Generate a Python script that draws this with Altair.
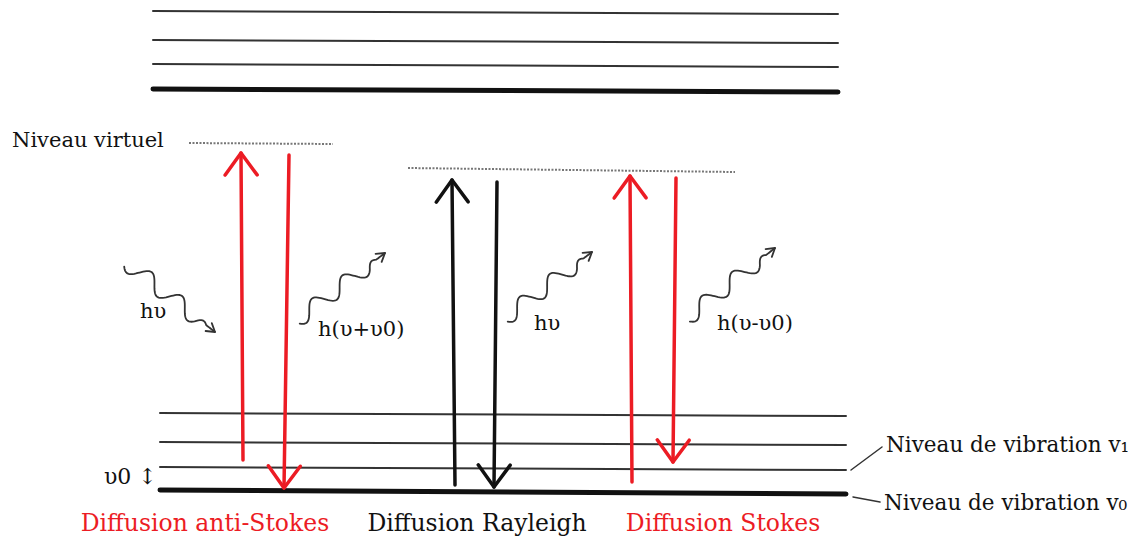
import altair as alt
import pandas as pd
import numpy as np

RED = "#ec1c24"
BLACK = "#111111"

# ---- energy levels (x extent, y at left / right end) ----
upper_x = [153, 838]
upper_thin_y = [(11, 14), (40, 43), (64, 67)]
upper_thick_y = (89, 92)
lower_x = [160, 846]
lower_thin_y = [(413, 416), (442, 445), (467, 470)]
lower_thick_y = (490, 494)
virtual_x = [(189, 333), (408, 735)]
virtual_y = [(143, 144), (168, 172)]

# ---- transitions (head at end point) ----
arrow_x0 = [243, 289, 455, 497, 632, 676]
arrow_y0 = [460, 155, 485, 182, 482, 178]
arrow_x1 = [241, 284, 452, 494, 630, 673]
arrow_y1 = [153, 488, 180, 487, 176, 462]
arrow_color = [RED, RED, BLACK, BLACK, RED, RED]

# ---- photons (wavy arrows) ----
photon_x0 = [127, 297, 505, 687]
photon_y0 = [263, 320, 318, 318]
photon_x1 = [215, 385, 592, 775]
photon_y1 = [332, 253, 252, 248]

# ---- leader lines of right labels ----
leader_x0 = [851, 853]
leader_y0 = [470, 497]
leader_x1 = [882, 880]
leader_y1 = [447, 502]

# ---- texts ----
label_text = ["Niveau virtuel", "h\u03c5", "h(\u03c5+\u03c50)", "h\u03c5", "h(\u03c5-\u03c50)",
              "\u03c50 \u2195", "Diffusion anti-Stokes", "Diffusion Rayleigh", "Diffusion Stokes",
              "Niveau de vibration v\u2081", "Niveau de vibration v\u2080"]
label_x = [12, 140, 318, 534, 717, 104, 205, 477, 723, 886, 884]
label_y = [147, 318, 336, 330, 330, 484, 531, 531, 531, 452, 510]
label_align = ["left", "left", "left", "left", "left", "left", "center", "center", "center", "left", "left"]
label_color = [BLACK] * 6 + [RED, BLACK, RED] + [BLACK, BLACK]
label_size = [21, 21, 21, 21, 21, 22, 23.5, 23.5, 23.5, 21.5, 21.5]

# ---------------- build polylines ----------------
rows = []
def add(pid, pts, color, width):
    for i, (px, py) in enumerate(pts):
        rows.append(dict(id=pid, i=i, x=px, y=py, color=color, w=width))

n = 0
for (yl, yr) in upper_thin_y:
    add(f"l{n}", [(upper_x[0], yl), (upper_x[1], yr)], "#333333", 2); n += 1
add(f"l{n}", [(upper_x[0], upper_thick_y[0]), (upper_x[1], upper_thick_y[1])], BLACK, 5); n += 1
for (yl, yr) in lower_thin_y:
    add(f"l{n}", [(lower_x[0], yl), (lower_x[1], yr)], "#333333", 2); n += 1
add(f"l{n}", [(lower_x[0], lower_thick_y[0]), (lower_x[1], lower_thick_y[1])], BLACK, 5); n += 1

def head(x0, y0, x1, y1, length, half):
    d = np.array([x1 - x0, y1 - y0], float)
    d /= np.linalg.norm(d)
    nrm = np.array([-d[1], d[0]])
    tip = np.array([x1, y1], float)
    base = tip - d * length
    return [tuple(base + nrm * half), tuple(tip), tuple(base - nrm * half)]

for k in range(len(arrow_x0)):
    add(f"a{k}", [(arrow_x0[k], arrow_y0[k]), (arrow_x1[k], arrow_y1[k])], arrow_color[k], 3.5)
    add(f"ah{k}", head(arrow_x0[k], arrow_y0[k], arrow_x1[k], arrow_y1[k], 22, 16), arrow_color[k], 3.5)

for k in range(len(photon_x0)):
    p0 = np.array([photon_x0[k], photon_y0[k]], float)
    p1 = np.array([photon_x1[k], photon_y1[k]], float)
    d = p1 - p0
    L = np.linalg.norm(d)
    u = d / L
    nrm = np.array([-u[1], u[0]])
    t = np.linspace(0, 1, 100)
    amp = 8 * np.clip((0.9 - t) / 0.1, 0, 1)
    pts = [tuple(p0 + u * L * tt + nrm * a * np.sin(2 * np.pi * 2.9 * tt + 0.6)) for tt, a in zip(t, amp)]
    add(f"p{k}", pts, "#333333", 1.8)
    add(f"ph{k}", head(*p0, *p1, 8, 5), "#333333", 1.8)

for k in range(len(leader_x0)):
    add(f"d{k}", [(leader_x0[k], leader_y0[k]), (leader_x1[k], leader_y1[k])], "#333333", 1.5)

lines = pd.DataFrame(rows)

vrows = []
for k in range(len(virtual_x)):
    vrows.append(dict(id=f"v{k}", i=0, x=virtual_x[k][0], y=virtual_y[k][0]))
    vrows.append(dict(id=f"v{k}", i=1, x=virtual_x[k][1], y=virtual_y[k][1]))
virt = pd.DataFrame(vrows)

labels = pd.DataFrame(dict(text=label_text, x=label_x, y=label_y, align=label_align,
                           color=label_color, size=label_size))

xs = alt.Scale(domain=[8, 1128], nice=False, zero=False)
ys = alt.Scale(domain=[8, 539], nice=False, zero=False, reverse=True)
X = lambda: alt.X("x:Q", scale=xs, axis=None)
Y = lambda: alt.Y("y:Q", scale=ys, axis=None)

line_layer = alt.Chart(lines).mark_line(strokeCap="round", strokeJoin="round").encode(
    x=X(), y=Y(), detail="id:N", order="i:Q",
    color=alt.Color("color:N", scale=None),
    size=alt.Size("w:Q", scale=None),
)

virt_layer = alt.Chart(virt).mark_line(strokeDash=[2, 1.5], color="#777777", strokeWidth=2).encode(
    x=X(), y=Y(), detail="id:N", order="i:Q"
)

text_layers = []
for al in ["left", "center"]:
    sub = labels[labels["align"] == al]
    text_layers.append(
        alt.Chart(sub).mark_text(align=al, baseline="alphabetic", font="DejaVu Serif").encode(
            x=X(), y=Y(), text="text:N",
            color=alt.Color("color:N", scale=None),
            size=alt.Size("size:Q", scale=None),
        )
    )

chart = alt.layer(virt_layer, line_layer, *text_layers).properties(
    width=1120, height=531, padding=0, autosize="none", background="white"
).configure_view(stroke=None)

chart.save("out.html", embed_options={"renderer": "svg", "actions": False})
